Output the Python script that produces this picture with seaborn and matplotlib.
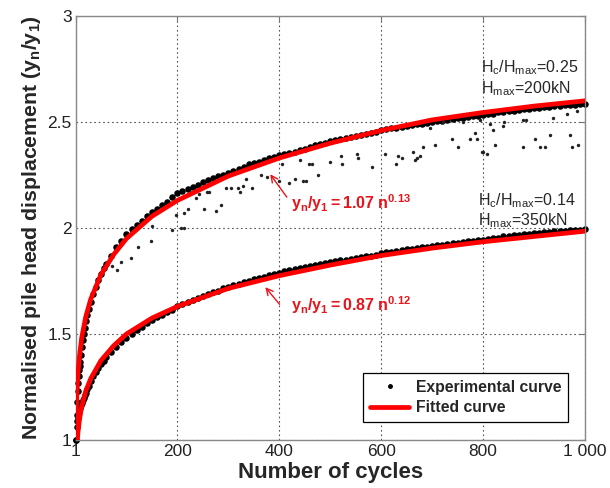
import matplotlib
matplotlib.use("Agg")
import matplotlib.pyplot as plt
import seaborn as sns
import pandas as pd
from matplotlib.lines import Line2D

# ---------------- data ----------------
cycles_fit = [0, 1, 2, 3, 5, 8, 12, 20, 30, 50, 75, 100, 150, 200, 300, 400,
              500, 600, 700, 800, 900, 1000]
fit_upper = [0.0, 1.07, 1.17, 1.235, 1.32, 1.40, 1.48, 1.58, 1.665, 1.78, 1.875,
             1.95, 2.055, 2.13, 2.245, 2.33, 2.40, 2.46, 2.51, 2.545, 2.575, 2.60]
fit_lower = [0.0, 0.85, 0.93, 0.98, 1.04, 1.10, 1.155, 1.23, 1.29, 1.375, 1.445,
             1.50, 1.575, 1.63, 1.715, 1.775, 1.825, 1.87, 1.905, 1.935, 1.96, 1.985]

cycles_exp = [1, 2, 3, 4, 5, 6, 7, 8, 9, 10, 12, 14, 16, 18, 20, 23, 26, 30, 35, 40,
              45, 50, 55, 60, 70, 80, 90, 100,
              110, 120, 130, 140, 150, 160, 170, 180, 190, 200,
              210, 220, 230, 240, 250, 260, 270, 280, 290, 300,
              310, 320, 330, 340, 350, 360, 370, 380, 390, 400,
              410, 420, 430, 440, 450, 460, 470, 480, 490, 500,
              510, 520, 530, 540, 550, 560, 570, 580, 590, 600,
              610, 620, 630, 640, 650, 660, 670, 680, 690, 700,
              710, 720, 730, 740, 750, 760, 770, 780, 790, 800,
              810, 820, 830, 840, 850, 860, 870, 880, 890, 900,
              910, 920, 930, 940, 950, 960, 970, 980, 990, 1000]
exp_upper = [1.00, 1.12, 1.18, 1.23, 1.27, 1.30, 1.33, 1.35, 1.37, 1.40, 1.44, 1.47,
             1.50, 1.53, 1.56, 1.59, 1.62, 1.65, 1.69, 1.72, 1.755, 1.785, 1.81, 1.83,
             1.87, 1.91, 1.94, 1.97,
             1.995, 2.015, 2.035, 2.055, 2.075, 2.09, 2.11, 2.125, 2.145, 2.165,
             2.175, 2.185, 2.195, 2.205, 2.215, 2.225, 2.235, 2.245, 2.25, 2.26,
             2.27, 2.28, 2.29, 2.30, 2.305, 2.31, 2.32, 2.33, 2.335, 2.345,
             2.35, 2.355, 2.36, 2.37, 2.375, 2.38, 2.39, 2.395, 2.40, 2.41,
             2.415, 2.42, 2.425, 2.43, 2.435, 2.44, 2.445, 2.45, 2.455, 2.46,
             2.465, 2.47, 2.47, 2.475, 2.48, 2.485, 2.49, 2.49, 2.495, 2.50,
             2.505, 2.505, 2.51, 2.515, 2.52, 2.52, 2.525, 2.53, 2.53, 2.535,
             2.54, 2.54, 2.545, 2.545, 2.55, 2.55, 2.555, 2.56, 2.56, 2.565,
             2.565, 2.57, 2.57, 2.575, 2.575, 2.58, 2.58, 2.58, 2.585, 2.585]
exp_lower = [1.00, 1.06, 1.09, 1.105, 1.12, 1.13, 1.14, 1.15, 1.16, 1.165, 1.175, 1.19,
             1.20, 1.21, 1.22, 1.24, 1.255, 1.28, 1.30, 1.32, 1.34, 1.36, 1.375, 1.39,
             1.415, 1.44, 1.46, 1.48,
             1.50, 1.52, 1.535, 1.55, 1.565, 1.58, 1.59, 1.605, 1.615, 1.63,
             1.64, 1.65, 1.66, 1.67, 1.68, 1.69, 1.70, 1.705, 1.715, 1.72,
             1.73, 1.735, 1.745, 1.75, 1.76, 1.765, 1.77, 1.78, 1.785, 1.79,
             1.795, 1.80, 1.805, 1.81, 1.815, 1.82, 1.825, 1.83, 1.835, 1.84,
             1.845, 1.85, 1.85, 1.855, 1.86, 1.865, 1.87, 1.87, 1.875, 1.88,
             1.885, 1.885, 1.89, 1.895, 1.90, 1.90, 1.905, 1.91, 1.91, 1.915,
             1.92, 1.92, 1.925, 1.93, 1.93, 1.935, 1.94, 1.94, 1.945, 1.945,
             1.95, 1.955, 1.955, 1.96, 1.96, 1.965, 1.965, 1.97, 1.97, 1.975,
             1.975, 1.98, 1.98, 1.985, 1.985, 1.985, 1.99, 1.99, 1.99, 1.995]

# scattered experimental points of the upper test (below the main band)
scatter_n = [72, 81, 90, 109, 122, 149, 150, 190, 197, 207, 212, 213, 220, 237, 243,
             253, 259, 263, 276, 286, 296, 306, 318, 322, 328, 335, 347, 365, 375,
             400, 406, 420, 430, 440, 446, 452, 459, 465, 475, 499, 522, 524, 552,
             554, 581, 607, 630, 632, 640, 662, 666, 670, 676, 682, 695, 705, 721,
             738, 750, 760, 774, 784, 788, 793, 797, 800, 807, 813, 819, 823, 839,
             842, 878, 878, 885, 902, 911, 921, 931, 937, 965, 970, 975, 984, 986]
scatter_y = [1.82, 1.80, 1.84, 1.86, 1.91, 1.94, 2.01, 1.99, 2.06, 2.00, 2.00, 2.07,
             2.09, 2.14, 2.16, 2.09, 2.17, 2.17, 2.08, 2.11, 2.19, 2.19, 2.19, 2.17,
             2.20, 2.23, 2.19, 2.25, 2.24, 2.22, 2.30, 2.21, 2.23, 2.32, 2.22, 2.22,
             2.30, 2.30, 2.25, 2.31, 2.34, 2.30, 2.35, 2.33, 2.29, 2.35, 2.30, 2.34,
             2.33, 2.36, 2.32, 2.33, 2.34, 2.38, 2.47, 2.39, 2.50, 2.42, 2.38, 2.50,
             2.42, 2.45, 2.42, 2.51, 2.36, 2.36, 2.35, 2.49, 2.46, 2.39, 2.48, 2.50,
             2.38, 2.51, 2.51, 2.42, 2.38, 2.38, 2.44, 2.52, 2.54, 2.44, 2.38, 2.55,
             2.39]

x_ticks = [1, 200, 400, 600, 800, 1000]
x_ticklabels = ["1", "200", "400", "600", "800", "1 000"]
y_ticks = [1, 1.5, 2, 2.5, 3]
y_ticklabels = ["1", "1.5", "2", "2.5", "3"]

# ---------------- style ----------------
sns.set_theme(style="white")
FONT = "Liberation Sans"
plt.rcParams["font.family"] = [FONT, "DejaVu Sans"]
plt.rcParams["mathtext.fontset"] = "custom"
plt.rcParams["mathtext.rm"] = FONT
plt.rcParams["mathtext.it"] = FONT + ":italic"
plt.rcParams["mathtext.bf"] = FONT + ":bold"
plt.rcParams["mathtext.default"] = "regular"

fig = plt.figure(figsize=(6.10, 4.88), dpi=100)
ax = fig.add_axes([76 / 610, 1 - 440 / 488, (585 - 76) / 610, (440 - 16) / 488])

df_fit = pd.DataFrame({"n": cycles_fit + cycles_fit,
                       "y": fit_upper + fit_lower,
                       "test": ["A"] * len(cycles_fit) + ["B"] * len(cycles_fit)})
df_exp = pd.DataFrame({"n": cycles_exp + cycles_exp,
                       "y": exp_upper + exp_lower})
df_sc = pd.DataFrame({"n": scatter_n, "y": scatter_y})

sns.scatterplot(data=df_exp, x="n", y="y", ax=ax, color="black", s=22,
                marker="o", linewidth=0, zorder=2, clip_on=False, legend=False)
sns.scatterplot(data=df_sc, x="n", y="y", ax=ax, color="#222222", s=6,
                marker="o", linewidth=0, zorder=2, legend=False)
sns.lineplot(data=df_fit, x="n", y="y", units="test", estimator=None, sort=False,
             ax=ax, color="#ff0000", lw=3.4, zorder=3, legend=False)

ax.set_xlim(1, 1000)
ax.set_ylim(1, 3)
ax.set_xticks(x_ticks)
ax.set_xticklabels(x_ticklabels)
ax.set_yticks(y_ticks)
ax.set_yticklabels(y_ticklabels)
ax.tick_params(axis="both", labelsize=12.5, colors="#222222", direction="in",
               length=4, width=0.8, top=True, right=True, pad=3)
ax.tick_params(axis="both", color="#777777")
ax.grid(True, linestyle=(0, (1.5, 2.5)), color="#555555", linewidth=0.8)
for s in ax.spines.values():
    s.set_color("#888888")
    s.set_linewidth(1.0)

ax.set_xlabel("Number of cycles", fontsize=16, fontweight="bold", labelpad=2)
ax.set_ylabel(r"Normalised pile head displacement (y$_n$/y$_1$)", fontsize=15.3,
              fontweight="bold", labelpad=3)

# annotations
ax.text(795, 2.755, r"H$_c$/H$_{max}$=0.25", fontsize=11.5, va="center", ha="left")
ax.text(795, 2.655, r"H$_{max}$=200kN", fontsize=11.5, va="center", ha="left")
ax.text(790, 2.13, r"H$_c$/H$_{max}$=0.14", fontsize=11.5, va="center", ha="left")
ax.text(790, 2.035, r"H$_{max}$=350kN", fontsize=11.5, va="center", ha="left")

ax.text(422, 2.115, r"$\mathbf{y_n/y_1=1.07\ n^{0.13}}$", color="#e8141b",
        fontsize=11.5, va="center", ha="left")
ax.text(422, 1.635, r"$\mathbf{y_n/y_1=0.87\ n^{0.12}}$", color="#e8141b",
        fontsize=11.5, va="center", ha="left")
ax.annotate("", xy=(379, 2.264), xytext=(418, 2.135),
            arrowprops=dict(arrowstyle="->", color="#e8141b", lw=1.0))
ax.annotate("", xy=(369, 1.731), xytext=(404, 1.630),
            arrowprops=dict(arrowstyle="->", color="#e8141b", lw=1.0))

handles = [Line2D([], [], marker="o", ls="none", color="black", markersize=2.5),
           Line2D([], [], color="#ff0000", lw=3.4)]
leg = ax.legend(handles, ["Experimental curve", "Fitted curve"], loc="lower right",
                bbox_to_anchor=(0.967, 0.042), borderaxespad=0, fancybox=False,
                framealpha=1, edgecolor="black", handlelength=2.5,
                handletextpad=0.4, borderpad=0.45, labelspacing=0.35,
                prop={"family": FONT, "weight": "bold", "size": 11.3})
leg.get_frame().set_linewidth(0.9)

fig.savefig("out.png", dpi=100)
